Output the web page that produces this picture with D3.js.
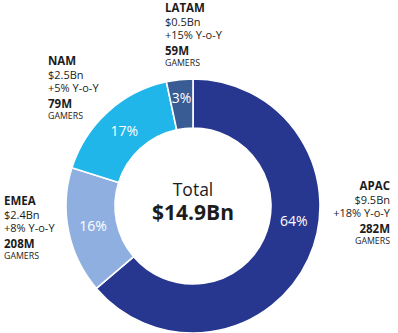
<!DOCTYPE html>
<html>
<head>
<meta charset="utf-8">
<script src="https://cdn.jsdelivr.net/npm/d3@7/dist/d3.min.js"></script>
<style>
  html, body { margin: 0; padding: 0; background: #fff; }
  svg { display: block; font-family: "Open Sans", "Noto Sans", sans-serif; }
</style>
</head>
<body>
<svg id="chart" width="398" height="333"></svg>
<script>
// Games market revenue by region
const regions  = ["APAC", "EMEA", "NAM", "LATAM"];
const revenue  = [9.5, 2.4, 2.5, 0.5];          // $Bn
const growth   = [18, 8, 5, 15];                 // % Y-o-Y
const gamers   = [282, 208, 79, 59];             // millions
const colors   = ["#27378f", "#8fafe0", "#20b6ea", "#3a5c94"];
const totalLabel = "$14.9Bn";

const svg = d3.select("#chart");
const cx = 193, cy = 206;
const rOuter = 127, rInner = 78;

const total = d3.sum(revenue);
const pie = d3.pie().sort(null).value(d => d)(revenue);
const arc = d3.arc().innerRadius(rInner).outerRadius(rOuter);

const g = svg.append("g").attr("transform", `translate(${cx},${cy})`);

g.selectAll("path.slice")
  .data(pie)
  .join("path")
  .attr("class", "slice")
  .attr("d", arc)
  .attr("fill", (d, i) => colors[i])
  .attr("stroke", "#fff")
  .attr("stroke-width", 1.6);

// Percentage labels inside the ring; the large slice keeps its label near the right side
const pctFmt = d => Math.round(d.value / total * 100) + "%";
g.selectAll("text.pct")
  .data(pie)
  .join("text")
  .attr("class", "pct")
  .attr("transform", d => {
    const span = d.endAngle - d.startAngle;
    const a = span > Math.PI ? d.startAngle + span * 0.43 : (d.startAngle + d.endAngle) / 2;
    const r = span < 0.3 ? 109 : 102;
    return `translate(${r * Math.sin(a)},${-r * Math.cos(a)})`;
  })
  .attr("text-anchor", "middle")
  .attr("dy", "0.36em")
  .attr("fill", "#fff")
  .attr("font-size", 14)
  .text(pctFmt);

// Center total
g.append("text")
  .attr("text-anchor", "middle")
  .attr("y", -10)
  .attr("font-size", 17.5)
  .attr("fill", "#1c1c1c")
  .text("Total");
g.append("text")
  .attr("text-anchor", "middle")
  .attr("y", 14)
  .attr("font-size", 21)
  .attr("font-weight", 700)
  .attr("fill", "#1c1c1c")
  .text(totalLabel);

// Region callouts
const callouts = [
  { x: 390, y: 190, anchor: "end" },    // APAC
  { x: 4,   y: 205, anchor: "start" },  // EMEA
  { x: 48,  y: 65,  anchor: "start" },  // NAM
  { x: 165, y: 12,  anchor: "start" }   // LATAM
];

regions.forEach((name, i) => {
  const c = callouts[i];
  const t = svg.append("g")
    .attr("transform", `translate(${c.x},${c.y})`)
    .attr("text-anchor", c.anchor)
    .attr("fill", "#1c1c1c");
  t.append("text").attr("y", 0).attr("font-size", 11.5).attr("font-weight", 700).text(name);
  t.append("text").attr("y", 13.5).attr("font-size", 11).text("$" + revenue[i] + "Bn");
  t.append("text").attr("y", 26.5).attr("font-size", 11).text("+" + growth[i] + "% Y-o-Y");
  t.append("text").attr("y", 43).attr("font-size", 11.5).attr("font-weight", 700).text(gamers[i] + "M");
  t.append("text").attr("y", 54).attr("font-size", 8.8).text("GAMERS");
});
</script>
</body>
</html>
